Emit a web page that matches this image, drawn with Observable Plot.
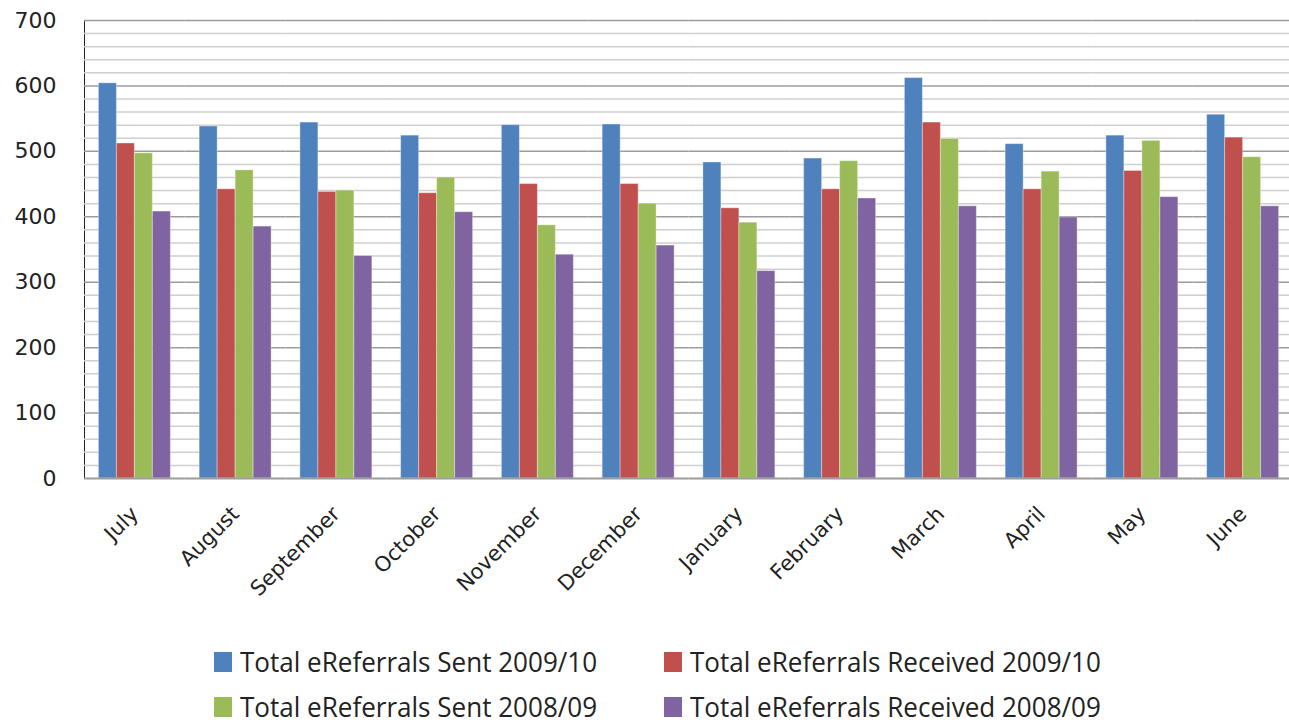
<!DOCTYPE html>
<html>
<head>
<meta charset="utf-8">
<script src="https://cdn.jsdelivr.net/npm/d3@7"></script>
<script src="https://cdn.jsdelivr.net/npm/@observablehq/plot@0.6"></script>
<style>
  html, body { margin: 0; padding: 0; background: #fff; overflow: hidden; }
  #chart svg { display: block; max-width: none !important; }
  g[aria-label="y-axis tick label"] { font-size: 22px; }
  g[aria-label="fx-axis tick label"] { font-size: 21px; }
  #legend { position: relative; height: 104px; font-family: "Open Sans", sans-serif; color: #222; }
  .sw { position: absolute; width: 18px; height: 20px; }
  .lab { position: absolute; font-size: 28px; line-height: 1; white-space: nowrap; transform: scaleX(0.93); transform-origin: 0 50%; }
</style>
</head>
<body>
<div id="chart"></div>
<div id="legend"></div>
<script>
const months = ["July","August","September","October","November","December","January","February","March","April","May","June"];
const seriesNames = ["Total eReferrals Sent 2009/10","Total eReferrals Received 2009/10","Total eReferrals Sent 2008/09","Total eReferrals Received 2008/09"];
const sent0910     = [604, 538, 544, 524, 540, 541, 483, 489, 612, 511, 524, 556];
const received0910 = [512, 442, 438, 436, 450, 450, 413, 442, 544, 442, 470, 521];
const sent0809     = [497, 471, 440, 460, 387, 420, 391, 485, 519, 469, 516, 491];
const received0809 = [408, 385, 340, 407, 342, 356, 317, 428, 416, 399, 430, 416];
const colors = ["#4F81BD","#C0504D","#9BBB59","#8064A2"];
const yTicks = [0,100,200,300,400,500,600,700];
const minorTicks = d3.range(20, 701, 20).filter(v => v % 100 !== 0);

const seriesValues = [sent0910, received0910, sent0809, received0809];
const data = months.flatMap((m, i) => seriesNames.map((s, j) => ({month: m, series: s, value: seriesValues[j][i]})));

const chart = Plot.plot({
  width: 1293,
  height: 620,
  marginLeft: 84,
  marginRight: 0,
  marginTop: 20,
  marginBottom: 142,
  style: {fontFamily: "DejaVu Sans, sans-serif", color: "#222", background: "#fff"},
  fx: {domain: months, padding: 0, round: false, label: null, tickRotate: -45, tickSize: 0, tickPadding: 32},
  x: {domain: seriesNames, paddingInner: 0, paddingOuter: 0.8, round: false, axis: null},
  y: {domain: [0, 700], ticks: yTicks, tickSize: 0, tickPadding: 28, label: null, line: true},
  color: {domain: seriesNames, range: colors},
  marks: [
    Plot.ruleY(minorTicks, {stroke: "#cfcfcf", strokeWidth: 1.5}),
    Plot.ruleY(yTicks.slice(1), {stroke: "#9c9c9c", strokeWidth: 1.5}),
    Plot.barY(data, {fx: "month", x: "series", y: "value", fill: "series", stroke: "#ffffff", strokeOpacity: 0.35, strokeWidth: 1}),
    Plot.ruleY([0], {stroke: "#9c9c9c", strokeWidth: 2})
  ]
});
document.getElementById("chart").appendChild(chart);

// legend
const legend = document.getElementById("legend");
const pos = [[214, 42], [664, 42], [214, 87], [664, 87]];
seriesNames.forEach((s, i) => {
  const sw = document.createElement("div");
  sw.className = "sw";
  sw.style.background = colors[i];
  sw.style.left = pos[i][0] + "px";
  sw.style.top = (pos[i][1] - 10) + "px";
  legend.appendChild(sw);
  const lab = document.createElement("div");
  lab.className = "lab";
  lab.textContent = s;
  lab.style.left = (pos[i][0] + 26) + "px";
  lab.style.top = (pos[i][1] - 15) + "px";
  legend.appendChild(lab);
});
</script>
</body>
</html>
